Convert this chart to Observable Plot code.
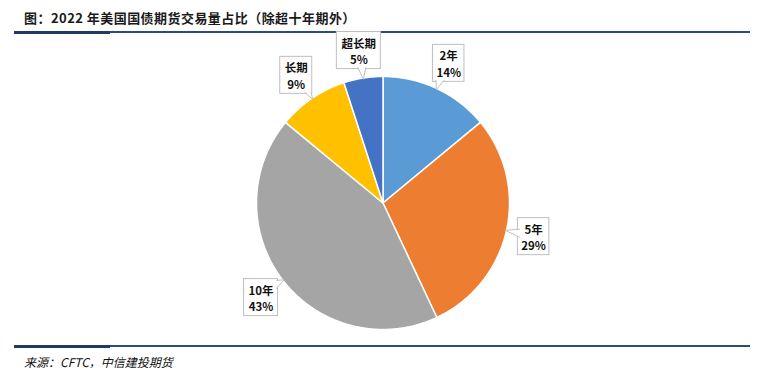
<!DOCTYPE html>
<html>
<head>
<meta charset="utf-8">
<script src="https://cdn.jsdelivr.net/npm/d3@7"></script>
<script src="https://cdn.jsdelivr.net/npm/@observablehq/plot@0.6"></script>
<style>
  html, body { margin: 0; padding: 0; background: #fff; }
  #wrap { position: relative; width: 760px; height: 378px; overflow: hidden; font-family: "Noto Sans CJK SC", "Noto Sans", sans-serif; }
  #title { position: absolute; left: 24px; top: 8px; font-size: 13px; font-weight: 700; color: #1a1a1a; white-space: nowrap; letter-spacing: 0.45px; }
  .rule { position: absolute; left: 14px; width: 736px; height: 2px; background: #2D4C78; }
  .rule .dark { position: absolute; left: 0; top: -0.5px; width: 96px; height: 3px; background: #1F3A63; }
  #source { position: absolute; left: 24px; top: 353px; font-size: 12px; font-style: italic; color: #111; white-space: nowrap; }
  #chart { position: absolute; left: 0; top: 0; }
</style>
</head>
<body>
<div id="wrap">
  <div id="title">图：2022 年美国国债期货交易量占比（除超十年期外）</div>
  <div class="rule" style="top:31px"><div class="dark"></div></div>
  <div id="chart"></div>
  <div class="rule" style="top:345px"><div class="dark"></div></div>
  <div id="source">来源：CFTC，中信建投期货</div>
</div>
<script>
// ---- data ----
const categories = ["2年", "5年", "10年", "长期", "超长期"];
const shares = [14, 29, 43, 9, 5];
const colors = ["#5B9BD5", "#ED7D31", "#A5A5A5", "#FFC000", "#4472C4"];

// ---- layout constants ----
const W = 760, H = 378;
const cx = 382.5, cy = 202.5, R = 126.5; // pie center & radius in px
const labelDist = 1.22;  // label box center, in radii
const tipDist = 0.99;    // pointer tip, in radii
const px = v => v / R;   // px -> data units

const rows = categories.map((name, i) => ({name, share: shares[i]}));
const arcs = d3.pie().sort(null).value(d => d.share)(rows);

// slice polygons
const slicePts = [];
arcs.forEach(a => {
  const name = a.data.name;
  slicePts.push({name, x: 0, y: 0});
  const n = Math.max(2, Math.ceil((a.endAngle - a.startAngle) / (Math.PI / 360)));
  for (let k = 0; k <= n; k++) {
    const t = a.startAngle + (a.endAngle - a.startAngle) * k / n;
    slicePts.push({name, x: Math.sin(t), y: Math.cos(t)});
  }
  slicePts.push({name, x: 0, y: 0});
});

// label boxes
function textW(s) {
  let w = 0;
  for (const ch of s) w += /[\u4e00-\u9fff]/.test(ch) ? 12 : (ch === "%" ? 9.5 : 7);
  return w;
}
const boxes = arcs.map(a => {
  const mid = (a.startAngle + a.endAngle) / 2;
  const name = a.data.name, pct = a.data.share + "%";
  const wpx = Math.max(textW(name), textW(pct)) + 8;
  const hpx = 37;
  const bx = Math.sin(mid) * labelDist, by = Math.cos(mid) * labelDist;
  const hw = px(wpx / 2), hh = px(hpx / 2);
  const tx = Math.sin(mid) * tipDist, ty = Math.cos(mid) * tipDist;
  return {name, label: name + "\n" + pct, bx, by, hw, hh, tx, ty,
          x1: bx - hw, x2: bx + hw, y1: by - hh, y2: by + hh};
});

// pointer wedges (open polylines: base1 -> tip -> base2)
const ptrPts = [];
boxes.forEach(b => {
  const dx = b.tx - b.bx, dy = b.ty - b.by;
  const tv = Math.abs(dx) > 1e-9 ? b.hw / Math.abs(dx) : Infinity;
  const th = Math.abs(dy) > 1e-9 ? b.hh / Math.abs(dy) : Infinity;
  const t = Math.min(tv, th);
  const Px = b.bx + dx * t, Py = b.by + dy * t;
  const half = px(4), inset = px(1.5);
  let p1, p2;
  if (tv < th) { // left/right edge
    const sx = Px - Math.sign(dx) * inset;
    const ya = Math.max(b.y1 + px(1), Math.min(b.y2 - px(1), Py - half));
    const yb = Math.max(b.y1 + px(1), Math.min(b.y2 - px(1), Py + half));
    p1 = [sx, ya]; p2 = [sx, yb];
  } else { // top/bottom edge
    const sy = Py - Math.sign(dy) * inset;
    const xa = Math.max(b.x1 + px(1), Math.min(b.x2 - px(1), Px - half));
    const xb = Math.max(b.x1 + px(1), Math.min(b.x2 - px(1), Px + half));
    p1 = [xa, sy]; p2 = [xb, sy];
  }
  ptrPts.push({name: b.name, x: p1[0], y: p1[1]});
  ptrPts.push({name: b.name, x: b.tx, y: b.ty});
  ptrPts.push({name: b.name, x: p2[0], y: p2[1]});
});

const chart = Plot.plot({
  width: W, height: H,
  margin: 0,
  x: {domain: [-cx / R, (W - cx) / R], axis: null},
  y: {domain: [-(H - cy) / R, cy / R], axis: null},
  color: {domain: categories, range: colors},
  style: {fontFamily: '"Noto Sans CJK SC", "Noto Sans", sans-serif', background: "transparent"},
  marks: [
    Plot.line(slicePts, {x: "x", y: "y", z: "name", fill: "name", stroke: "white", strokeWidth: 1.5, strokeLinejoin: "round", curve: "linear"}),
    Plot.rect(boxes, {x1: "x1", x2: "x2", y1: "y1", y2: "y2", fill: "white", stroke: "#BFBFBF", strokeWidth: 1}),
    Plot.line(ptrPts, {x: "x", y: "y", z: "name", fill: "white", stroke: "#BFBFBF", strokeWidth: 1, curve: "linear"}),
    Plot.text(boxes, {x: "bx", y: "by", text: "label", fontSize: 11.5, fontWeight: "bold", fill: "#111", lineHeight: 1.45, textAnchor: "middle", lineAnchor: "middle"})
  ]
});
document.getElementById("chart").appendChild(chart);
</script>
</body>
</html>
